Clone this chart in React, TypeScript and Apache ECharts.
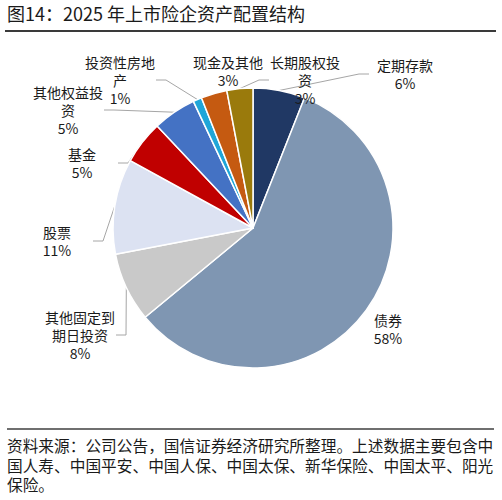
import { useEffect, useRef } from 'react';
import * as echarts from 'echarts';

// categories clockwise from 12 o'clock
const categories = [
  '定期存款',
  '债券',
  '其他固定到期日投资',
  '股票',
  '基金',
  '其他权益投资',
  '投资性房地产',
  '现金及其他',
  '长期股权投资',
];
const shares = [6, 58, 8, 11, 5, 5, 1, 3, 3];
const colors = [
  '#203864',
  '#7F96B2',
  '#C9C9C9',
  '#DCE2F2',
  '#C00000',
  '#4472C4',
  '#1FA6D8',
  '#C55A11',
  '#9A7A0C',
];
// where each label block sits (centre), as in the original layout
const labelCentres = [
  [405, 74],
  [388, 329],
  [80, 335],
  [57, 241],
  [82, 163],
  [68, 110],
  [120, 80],
  [228, 71],
  [305, 80],
];
const noLeader = ['债券', '现金及其他'];

const title = '图14：2025 年上市险企资产配置结构';
const sourceNote = [
  '资料来源：公司公告，国信证券经济研究所整理。上述数据主要包含中',
  '国人寿、中国平安、中国人保、中国太保、新华保险、中国太平、阳光',
  '保险。',
];

const FONT = '"Noto Sans CJK SC", "Noto Sans", sans-serif';

export default function App() {
  const chartRef = useRef<HTMLDivElement>(null);

  useEffect(() => {
    document.body.style.margin = '0';
    if (!chartRef.current) return;
    const chart = echarts.init(chartRef.current, null, { renderer: 'svg' });

    const data = categories.map((name, i) => ({
      name,
      value: shares[i],
      itemStyle: { color: colors[i] },
      labelLine: { show: !noLeader.includes(name) },
    }));

    // one text element per line of the source note
    const noteLines = sourceNote.map((line, i) => ({
      type: 'text',
      left: 7,
      top: 438 + i * 19.5,
      style: { text: line, fontSize: 15.7, fontFamily: FONT, fill: '#1a1a1a' },
    }));

    const option: any = {
      animation: false,
      backgroundColor: '#fff',
      graphic: [
        {
          type: 'text',
          left: 7,
          top: 4,
          style: { text: title, fontSize: 18, fontFamily: FONT, fill: '#1a1a1a' },
        },
        {
          type: 'line',
          shape: { x1: 5, y1: 31, x2: 496, y2: 31 },
          style: { stroke: '#3a3a3a', lineWidth: 2 },
        },
        {
          type: 'line',
          shape: { x1: 7, y1: 429, x2: 494, y2: 429 },
          style: { stroke: '#6f6f6f', lineWidth: 2 },
        },
        ...noteLines,
      ],
      series: [
        {
          type: 'pie',
          center: [253, 228],
          radius: 140,
          startAngle: 90,
          clockwise: true,
          avoidLabelOverlap: false,
          data,
          itemStyle: { borderColor: '#fff', borderWidth: 1.5 },
          label: {
            show: true,
            position: 'outside',
            color: '#1a1a1a',
            fontSize: 14,
            lineHeight: 18,
            fontFamily: FONT,
            width: 72,
            overflow: 'break',
            align: 'center',
            formatter: (p: any) => `${p.name}\n${p.value}%`,
          },
          labelLine: {
            show: true,
            length: 10,
            length2: 10,
            lineStyle: { color: '#A6A6A6', width: 1 },
          },
          labelLayout: (p: any) => {
            const c = labelCentres[p.dataIndex];
            return { x: c[0], y: c[1], align: 'center', verticalAlign: 'middle' };
          },
          emphasis: { disabled: true },
        },
      ],
    };

    chart.setOption(option);
    return () => chart.dispose();
  }, []);

  return <div ref={chartRef} style={{ width: 502, height: 500 }} />;
}
